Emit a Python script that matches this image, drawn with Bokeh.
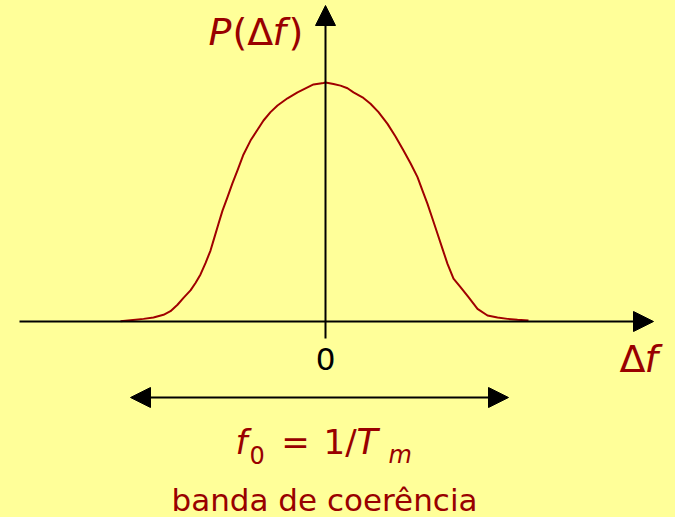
from bokeh.plotting import figure
from bokeh.models import Range1d, Arrow, NormalHead, Label
from bokeh.embed import file_html
from bokeh.resources import INLINE

# ---- data (Δf in arbitrary units, P normalised to peak) ----
delta_f = [-2.05, -1.95, -1.82, -1.72, -1.62, -1.55, -1.48, -1.42, -1.35, -1.30, -1.25,
           -1.20, -1.15, -1.11, -1.07, -1.03, -0.98, -0.93, -0.88, -0.82, -0.75, -0.68,
           -0.62, -0.55, -0.48, -0.38, -0.28, -0.18, -0.12, -0.02, 0.0,
           0.08, 0.15, 0.22, 0.28, 0.37, 0.45, 0.53, 0.62, 0.70, 0.78, 0.85, 0.92, 0.97,
           1.02, 1.07, 1.12, 1.17, 1.22, 1.28, 1.35, 1.43, 1.52, 1.62, 1.72, 1.82, 1.92, 2.03]
power = [0.001, 0.005, 0.011, 0.017, 0.028, 0.043, 0.070, 0.099, 0.130, 0.161, 0.197,
         0.244, 0.297, 0.353, 0.409, 0.464, 0.520, 0.579, 0.632, 0.699, 0.757, 0.802,
         0.841, 0.876, 0.904, 0.934, 0.959, 0.980, 0.992, 0.998, 1.0,
         0.994, 0.987, 0.976, 0.959, 0.938, 0.911, 0.876, 0.827, 0.774, 0.715, 0.662, 0.604, 0.548,
         0.492, 0.430, 0.367, 0.304, 0.241, 0.179, 0.144, 0.102, 0.053, 0.025, 0.017, 0.011, 0.007, 0.004]

BG = "#FFFF99"
RED = "#990000"
FONT = "DejaVu Sans"

# ---- layout (pixel geometry of the page) ----
W, H, OFF = 675, 517, 0
X0, SX = 325.0, 100.0   # page x of Δf = 0, pixels per unit
Y0, SY = 321.0, 239.0   # page y of P = 0, pixels per unit


def dx(ix):
    return (ix - X0) / SX


def dy(iy):
    return (Y0 - iy) / SY


p = figure(width=W, height=H, output_backend="svg", toolbar_location=None,
           x_range=Range1d(dx(OFF), dx(OFF + W)), y_range=Range1d(dy(OFF + H), dy(OFF)),
           x_axis_type=None, y_axis_type=None, min_border=0)
p.background_fill_color = BG
p.border_fill_color = BG
p.outline_line_color = None
p.grid.visible = False

# curve
p.line(delta_f, power, line_color="#A00000", line_width=2, line_join="round")

# axes as arrows
p.add_layout(Arrow(x_start=dx(19), y_start=0, x_end=dx(653), y_end=0,
                   line_color="black", line_width=2,
                   end=NormalHead(size=20, fill_color="black", line_color="black")))
p.add_layout(Arrow(x_start=0, y_start=dy(338), x_end=0, y_end=dy(5),
                   line_color="black", line_width=2,
                   end=NormalHead(size=20, fill_color="black", line_color="black")))
# coherence bandwidth double arrow
yb = dy(397)
p.add_layout(Arrow(x_start=dx(130), y_start=yb, x_end=dx(508), y_end=yb,
                   line_color="black", line_width=2,
                   start=NormalHead(size=20, fill_color="black", line_color="black"),
                   end=NormalHead(size=20, fill_color="black", line_color="black")))


def lab(ix, iy, text, size, italic=False, align="left", color=RED):
    p.add_layout(Label(x=dx(ix), y=dy(iy), text=text, text_font=FONT,
                       text_font_size=f"{size}px",
                       text_font_style="italic" if italic else "normal",
                       text_color=color, text_align=align, text_baseline="middle"))


# P(Δf)
lab(208, 31, "P", 38, italic=True)
lab(232, 31, "(Δ", 38)
lab(272, 31, "f", 38, italic=True)
lab(288, 31, ")", 38)

# Δf on x axis
lab(619, 358, "Δ", 38)
lab(644, 358, "f", 38, italic=True)

# 0
lab(325, 358, "0", 31, align="center", color="black")

# f0 = 1/Tm
lab(235, 441, "f", 34, italic=True)
lab(249, 454, "0", 24)
lab(295, 441, "=", 34, align="center")
lab(323, 441, "1/", 34)
lab(356, 441, "T", 35, italic=True)
lab(388, 454, "m", 24, italic=True)

# banda de coerência
lab(324, 499, "banda de coerência", 31, align="center")

html = file_html(p, INLINE)
html = html.replace("</head>", "<style>html, body { background: %s; }</style></head>" % BG, 1)
open("out.html", "w").write(html)
